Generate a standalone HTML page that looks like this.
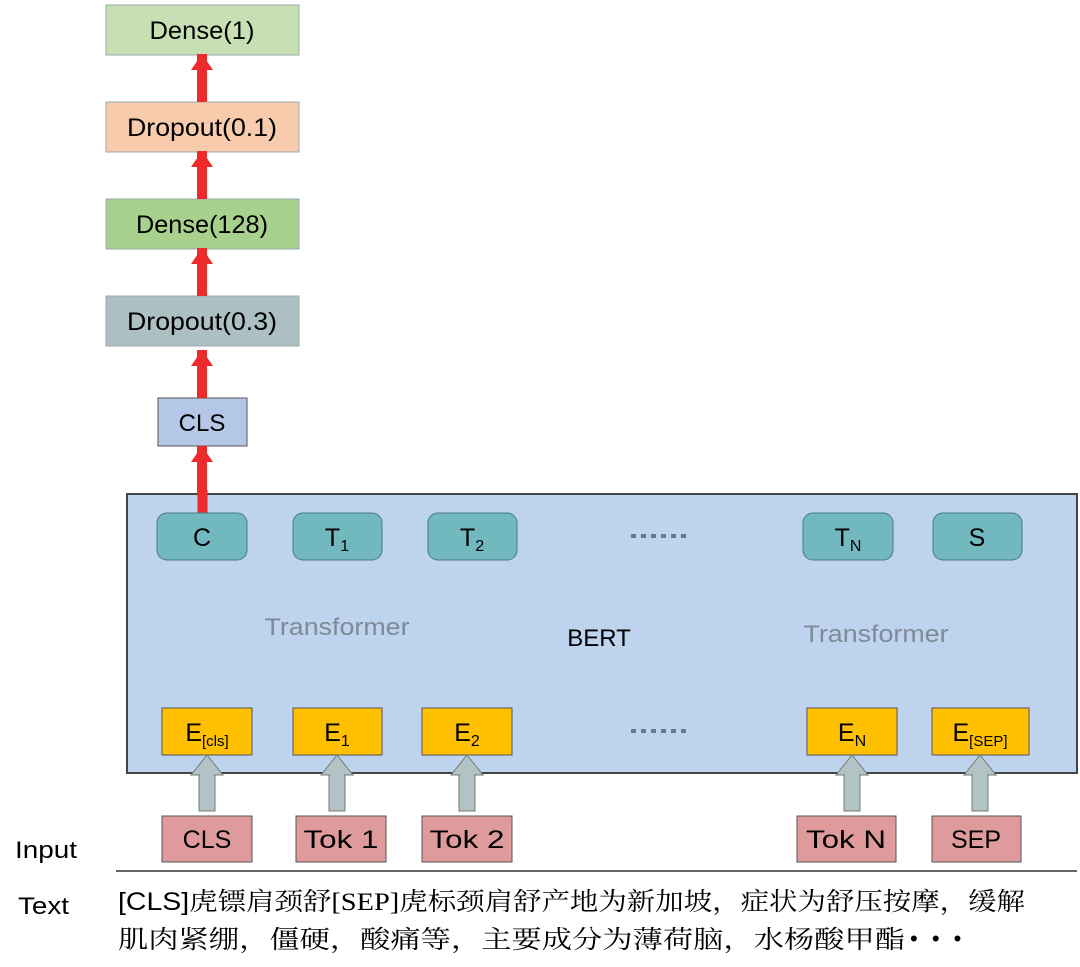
<!DOCTYPE html>
<html><head><meta charset="utf-8"><style>
html,body{margin:0;padding:0;background:#fff;}
svg{display:block;}
text{font-family:"Liberation Sans","Noto Sans CJK SC",sans-serif;}
.s{font-family:"Liberation Serif","Noto Serif CJK SC",serif;}
</style></head><body>
<svg width="1080" height="967" viewBox="0 0 1080 967" xmlns="http://www.w3.org/2000/svg">
<defs>
<g id="ra"><rect x="-5" y="-48" width="10" height="48" fill="#ee2a2a"/><polygon points="-11,-32 0,-48 11,-32" fill="#ee2a2a"/></g>
<g id="ga"><rect x="-8" y="20" width="16" height="36" fill="#b2c3c5" stroke="#777" stroke-width="1"/><polygon points="-16,20 0,0 16,20" fill="#b2c3c5" stroke="#777" stroke-width="1"/><rect x="-7" y="19" width="14" height="3" fill="#b2c3c5"/></g>
<g id="dots" fill="#6a7a8a"><rect x="0" y="0" width="5" height="4"/><rect x="10" y="0" width="5" height="4"/><rect x="20" y="0" width="5" height="4"/><rect x="30" y="0" width="5" height="4"/><rect x="40" y="0" width="5" height="4"/><rect x="50" y="0" width="5" height="4"/></g>
</defs>
<rect x="106" y="5" width="193" height="50" fill="#c6e0b4" stroke="#9aa" stroke-width="1"/>
<text x="202" y="39" font-size="25" text-anchor="middle" textLength="105" lengthAdjust="spacingAndGlyphs">Dense(1)</text>
<rect x="106" y="102" width="193" height="50" fill="#f8cbad" stroke="#9aa" stroke-width="1"/>
<text x="202" y="136" font-size="25" text-anchor="middle" textLength="150" lengthAdjust="spacingAndGlyphs">Dropout(0.1)</text>
<rect x="106" y="199" width="193" height="50" fill="#a9d18e" stroke="#9aa" stroke-width="1"/>
<text x="202" y="233" font-size="25" text-anchor="middle" textLength="132" lengthAdjust="spacingAndGlyphs">Dense(128)</text>
<rect x="106" y="296" width="193" height="50" fill="#acbfc2" stroke="#9aa" stroke-width="1"/>
<text x="202" y="330" font-size="25" text-anchor="middle" textLength="150" lengthAdjust="spacingAndGlyphs">Dropout(0.3)</text>
<rect x="158" y="398" width="89" height="48" fill="#b4c7e7" stroke="#555" stroke-width="1"/>
<text x="202" y="431" font-size="24" text-anchor="middle">CLS</text>
<use href="#ra" x="202" y="102"/><use href="#ra" x="202" y="199"/><use href="#ra" x="202" y="296"/><use href="#ra" x="202" y="398"/>
<rect x="127" y="494" width="950" height="279" fill="#bdd3ee" stroke="#444" stroke-width="2"/>
<use href="#ra" x="202" y="494"/>
<rect x="197.5" y="490" width="10" height="24" fill="#ee2a2a"/>
<g fill="#71b8bf" stroke="#4a7a80" stroke-width="1">
<rect x="157" y="513" width="90" height="47" rx="10"/>
<rect x="293" y="513" width="89" height="47" rx="10"/>
<rect x="428" y="513" width="89" height="47" rx="10"/>
<rect x="803" y="513" width="90" height="47" rx="10"/>
<rect x="933" y="513" width="89" height="47" rx="10"/>
</g>
<text x="202" y="546" font-size="25" text-anchor="middle">C</text>
<text x="337" y="546" font-size="25" text-anchor="middle">T<tspan font-size="16" dy="5">1</tspan></text>
<text x="472" y="546" font-size="25" text-anchor="middle">T<tspan font-size="16" dy="5">2</tspan></text>
<text x="848" y="546" font-size="25" text-anchor="middle">T<tspan font-size="16" dy="5">N</tspan></text>
<text x="977" y="546" font-size="25" text-anchor="middle">S</text>
<use href="#dots" x="631" y="534"/>
<text x="337" y="635" font-size="24" fill="#7f8a98" text-anchor="middle" textLength="145" lengthAdjust="spacingAndGlyphs">Transformer</text>
<text x="876" y="642" font-size="24" fill="#7f8a98" text-anchor="middle" textLength="145" lengthAdjust="spacingAndGlyphs">Transformer</text>
<text x="599" y="646" font-size="24" text-anchor="middle">BERT</text>
<g fill="#ffc000" stroke="#555" stroke-width="1">
<rect x="162" y="708" width="90" height="47"/>
<rect x="293" y="708" width="89" height="47"/>
<rect x="422" y="708" width="90" height="47"/>
<rect x="807" y="708" width="90" height="47"/>
<rect x="932" y="708" width="97" height="47"/>
</g>
<text x="207" y="741" font-size="25" text-anchor="middle">E<tspan font-size="15" dy="5">[cls]</tspan></text>
<text x="337" y="741" font-size="25" text-anchor="middle">E<tspan font-size="16" dy="5">1</tspan></text>
<text x="467" y="741" font-size="25" text-anchor="middle">E<tspan font-size="16" dy="5">2</tspan></text>
<text x="852" y="741" font-size="25" text-anchor="middle">E<tspan font-size="16" dy="5">N</tspan></text>
<text x="980" y="741" font-size="25" text-anchor="middle">E<tspan font-size="15" dy="5">[SEP]</tspan></text>
<use href="#dots" x="631" y="729"/>
<use href="#ga" x="207" y="755"/><use href="#ga" x="337" y="755"/><use href="#ga" x="467" y="755"/><use href="#ga" x="852" y="755"/><use href="#ga" x="980" y="755"/>
<g fill="#df9b9b" stroke="#555" stroke-width="1">
<rect x="162" y="816" width="90" height="46"/>
<rect x="296" y="816" width="90" height="46"/>
<rect x="422" y="816" width="90" height="46"/>
<rect x="797" y="816" width="99" height="46"/>
<rect x="932" y="816" width="89" height="46"/>
</g>
<text x="207" y="848" font-size="25" text-anchor="middle">CLS</text>
<text x="341" y="848" font-size="25" text-anchor="middle" textLength="75" lengthAdjust="spacingAndGlyphs">Tok 1</text>
<text x="467" y="848" font-size="25" text-anchor="middle" textLength="75" lengthAdjust="spacingAndGlyphs">Tok 2</text>
<text x="846" y="848" font-size="25" text-anchor="middle" textLength="80" lengthAdjust="spacingAndGlyphs">Tok N</text>
<text x="976" y="848" font-size="25" text-anchor="middle">SEP</text>
<line x1="116" y1="871" x2="1077" y2="871" stroke="#333" stroke-width="1.5"/>
<text x="15" y="858" font-size="24" textLength="62" lengthAdjust="spacingAndGlyphs">Input</text>
<text x="18" y="914" font-size="24" textLength="51" lengthAdjust="spacingAndGlyphs">Text</text>
<text x="118" y="910" font-size="25" class="s" textLength="907" lengthAdjust="spacingAndGlyphs"><tspan style="font-family:'Liberation Sans',sans-serif">[CLS]</tspan>虎镖肩颈舒[SEP]虎标颈肩舒产地为新加坡，症状为舒压按摩，缓解</text>
<text x="118" y="948" font-size="25" class="s" textLength="787" lengthAdjust="spacingAndGlyphs">肌肉紧绷，僵硬，酸痛等，主要成分为薄荷脑，水杨酸甲酯</text>
<text x="910" y="946" font-size="22" letter-spacing="4">• • •</text>
</svg>
</body></html>
